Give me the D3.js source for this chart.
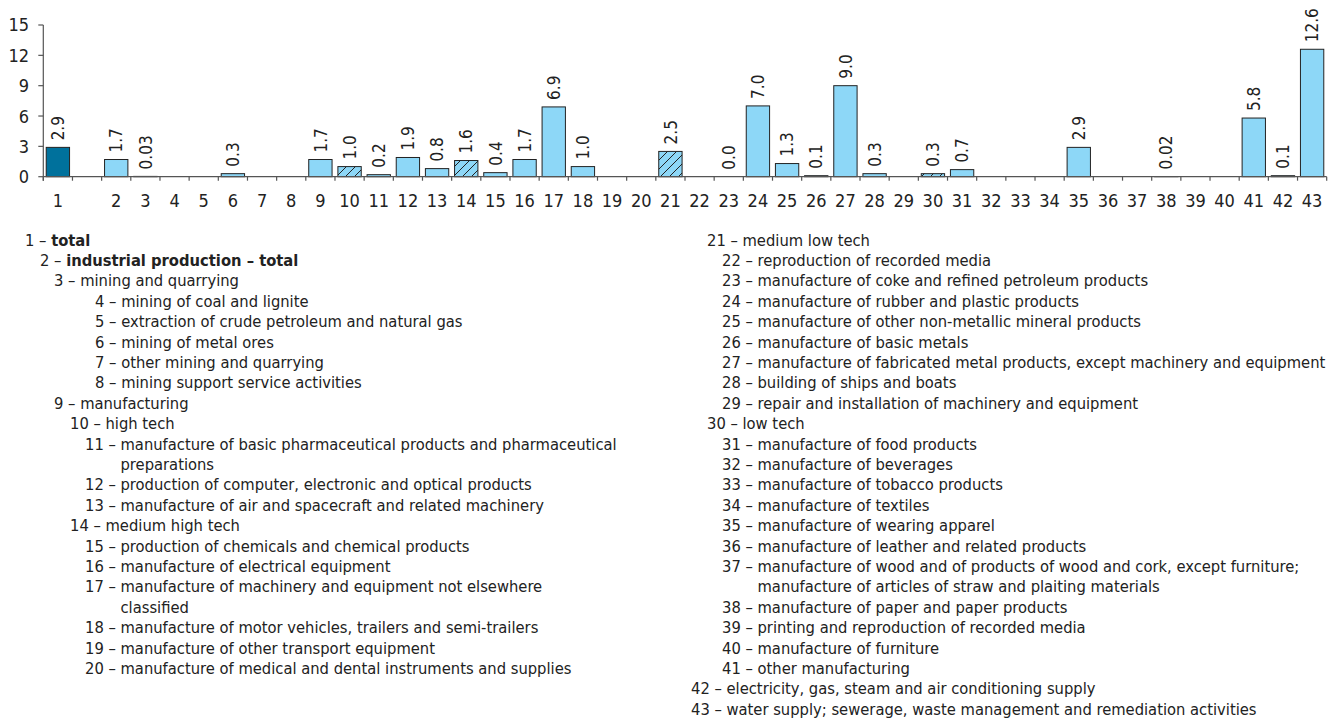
<!DOCTYPE html>
<html>
<head>
<meta charset="utf-8">
<script src="https://cdn.jsdelivr.net/npm/d3@7"></script>
<style>
  html, body { margin: 0; padding: 0; background: #ffffff; }
  svg { display: block; }
  text { font-family: "DejaVu Sans Condensed", "Liberation Sans Narrow", "DejaVu Sans", sans-serif; fill: #222; }
</style>
</head>
<body>
<svg id="chart" width="1331" height="719"></svg>
<script>
// ---------- data ----------
const categories = ["1","","2","3","4","5","6","7","8","9","10","11","12","13","14","15","16","17","18","19","20","21","22","23","24","25","26","27","28","29","30","31","32","33","34","35","36","37","38","39","40","41","42","43"];
const values = [2.9,null,1.7,0.03,null,null,0.3,null,null,1.7,1.0,0.2,1.9,0.8,1.6,0.4,1.7,6.9,1.0,null,null,2.5,null,0.0,7.0,1.3,0.1,9.0,0.3,null,0.3,0.7,null,null,null,2.9,null,null,0.02,null,null,5.8,0.1,12.6];
const valueLabels = ["2.9","","1.7","0.03","","","0.3","","","1.7","1.0","0.2","1.9","0.8","1.6","0.4","1.7","6.9","1.0","","","2.5","","0.0","7.0","1.3","0.1","9.0","0.3","","0.3","0.7","","","","2.9","","","0.02","","","5.8","0.1","12.6"];
const barKind = ["total","","plain","plain","","","plain","","","plain","hatch","plain","plain","plain","hatch","plain","plain","plain","plain","","","hatch","","plain","plain","plain","plain","plain","plain","","hatch","plain","","","","plain","","","plain","","","plain","plain","plain"];
const yTicks = [0,3,6,9,12,15];

const legendLabels = [
  "total",
  "industrial production – total",
  "mining and quarrying",
  "mining of coal and lignite",
  "extraction of crude petroleum and natural gas",
  "mining of metal ores",
  "other mining and quarrying",
  "mining support service activities",
  "manufacturing",
  "high tech",
  "manufacture of basic pharmaceutical products and pharmaceutical\npreparations",
  "production of computer, electronic and optical products",
  "manufacture of air and spacecraft and related machinery",
  "medium high tech",
  "production of chemicals and chemical products",
  "manufacture of electrical equipment",
  "manufacture of machinery and equipment not elsewhere\nclassified",
  "manufacture of motor vehicles, trailers and semi-trailers",
  "manufacture of other transport equipment",
  "manufacture of medical and dental instruments and supplies",
  "medium low tech",
  "reproduction of recorded media",
  "manufacture of coke and refined petroleum products",
  "manufacture of rubber and plastic products",
  "manufacture of other non-metallic mineral products",
  "manufacture of basic metals",
  "manufacture of fabricated metal products, except machinery and equipment",
  "building of ships and boats",
  "repair and installation of machinery and equipment",
  "low tech",
  "manufacture of food products",
  "manufacture of beverages",
  "manufacture of tobacco products",
  "manufacture of textiles",
  "manufacture of wearing apparel",
  "manufacture of leather and related products",
  "manufacture of wood and of products of wood and cork, except furniture;\nmanufacture of articles of straw and plaiting materials",
  "manufacture of paper and paper products",
  "printing and reproduction of recorded media",
  "manufacture of furniture",
  "other manufacturing",
  "electricity, gas, steam and air conditioning supply",
  "water supply; sewerage, waste management and remediation activities"
];
// hierarchy depth of each legend entry (5 = mining sub-branches)
const legendDepth = [0,1,2,5,5,5,5,5,2,3,4,4,4,3,4,4,4,4,4,4,3,4,4,4,4,4,4,4,4,3,4,4,4,4,4,4,4,4,4,4,4,2,2];
const legendBold = [true,true,false,false,false,false,false,false,false,false,false,false,false,false,false,false,false,false,false,false,false,false,false,false,false,false,false,false,false,false,false,false,false,false,false,false,false,false,false,false,false,false,false];
const legendColumn = legendLabels.map((d,i) => i < 20 ? 0 : 1);

// ---------- layout ----------
const svg = d3.select("#chart");
const x0 = 43.3, x1 = 1326.7, yBase = 176.7, yTop = 25;
const x = d3.scaleBand().domain(categories.map((c,i)=>i)).range([x0, x1]).paddingInner(0.2).paddingOuter(0.1);
const y = d3.scaleLinear().domain([0, 15]).range([yBase, yTop]);
const step = x.step();

const defs = svg.append("defs");
const pat = defs.append("pattern").attr("id","hatch").attr("patternUnits","userSpaceOnUse")
  .attr("width",9).attr("height",9);
pat.append("rect").attr("width",9).attr("height",9).attr("fill","#8dd7f7");
pat.append("path").attr("d","M-1,1 L1,-1 M0,9 L9,0 M8,10 L10,8").attr("stroke","#222").attr("stroke-width",1);

const fills = {total:"#00719c", plain:"#8dd7f7", hatch:"url(#hatch)"};

// bars
const g = svg.append("g");
const idx = d3.range(categories.length).filter(i => values[i] !== null);
g.selectAll("rect.bar").data(idx).join("rect")
  .attr("class","bar")
  .attr("x", i => x(i))
  .attr("width", x.bandwidth())
  .attr("y", i => y(values[i]))
  .attr("height", i => yBase - y(values[i]))
  .attr("fill", i => fills[barKind[i]])
  .attr("stroke", "#222")
  .attr("stroke-width", 1);

// axes
const axisColor = "#555";
svg.append("line").attr("x1", x0).attr("x2", x0).attr("y1", yTop).attr("y2", yBase + 4)
  .attr("stroke", axisColor).attr("stroke-width", 1.2);
svg.append("line").attr("x1", x0).attr("x2", x1).attr("y1", yBase).attr("y2", yBase)
  .attr("stroke", axisColor).attr("stroke-width", 1.2);
// y ticks
svg.selectAll("line.yt").data(yTicks).join("line").attr("class","yt")
  .attr("x1", x0 - 5).attr("x2", x0).attr("y1", d => y(d)).attr("y2", d => y(d))
  .attr("stroke", axisColor).attr("stroke-width", 1.2);
svg.selectAll("text.yl").data(yTicks).join("text").attr("class","yl")
  .attr("x", 29).attr("y", d => y(d)).attr("dy","0.36em").attr("text-anchor","end")
  .attr("font-size", 18).text(d => d);
// x ticks at band boundaries
const bounds = d3.range(categories.length + 1).map(i => x0 + i * step);
svg.selectAll("line.xt").data(bounds).join("line").attr("class","xt")
  .attr("x1", d => d).attr("x2", d => d).attr("y1", yBase).attr("y2", yBase + 4)
  .attr("stroke", axisColor).attr("stroke-width", 1.2);
svg.selectAll("text.xl").data(d3.range(categories.length)).join("text").attr("class","xl")
  .attr("x", i => x(i) + x.bandwidth()/2).attr("y", 207).attr("text-anchor","middle")
  .attr("font-size", 18).text(i => categories[i]);

// value labels
svg.selectAll("text.vl").data(idx).join("text").attr("class","vl")
  .attr("transform", i => `translate(${x(i) + x.bandwidth()/2},${y(values[i]) - 7}) rotate(-90)`)
  .attr("dy","0.36em").attr("font-size", 17).text(i => valueLabels[i]);

// legend
const legendFont = 16.4;
const depthX = {0:25, 1:40, 2:54, 3:70, 4:85, 5:95};
const colOffset = [0, 637];
const rowH = 20.4, baseY = 245.5;
const rowCounter = [0, 0];
legendLabels.forEach((lab, i) => {
  const col = legendColumn[i];
  const lines = lab.split("\n");
  const xs = depthX[legendDepth[i]] + colOffset[col];
  const t = svg.append("text").attr("class","lg").attr("x", xs).attr("y", baseY + rowCounter[col]*rowH).attr("font-size", legendFont);
  const pre = t.append("tspan").text((i+1) + " – ");
  t.append("tspan").attr("font-weight", legendBold[i] ? "bold" : null).text(lines[0]);
  rowCounter[col]++;
  if (lines.length > 1) {
    const w = pre.node().getComputedTextLength();
    for (let k = 1; k < lines.length; k++) {
      svg.append("text").attr("class","lg").attr("x", xs + w).attr("y", baseY + rowCounter[col]*rowH)
        .attr("font-size", legendFont).text(lines[k]);
      rowCounter[col]++;
    }
  }
});
</script>
</body>
</html>
